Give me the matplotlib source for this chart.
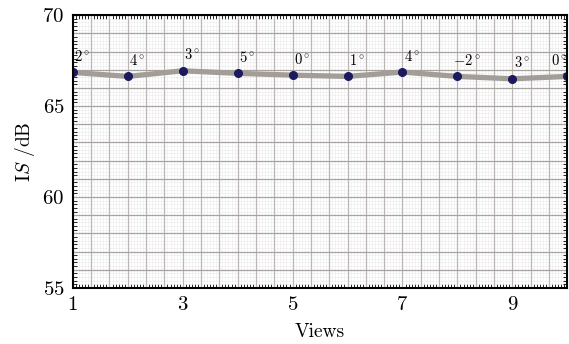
import numpy as np
import matplotlib
matplotlib.use('Agg')
import matplotlib.pyplot as plt
from matplotlib.ticker import MultipleLocator, FixedLocator

plt.rcParams['font.family'] = 'serif'
plt.rcParams['font.serif'] = ['cmr10']
plt.rcParams['mathtext.fontset'] = 'cm'
plt.rcParams['axes.formatter.use_mathtext'] = True

# data
views = [1, 2, 3, 4, 5, 6, 7, 8, 9, 10]
IS = [66.85, 66.63, 66.94, 66.80, 66.70, 66.63, 66.87, 66.63, 66.50, 66.63]
angles = ['2', '4', '3', '5', '0', '1', '4', '-2', '3', '0']

fig = plt.figure(figsize=(5.69, 3.44), dpi=100)
ax = fig.add_axes([0.128, 0.163, 0.869, 0.793])

ax.plot(views, IS, color='#a39d98', lw=3.8, solid_joinstyle='round', solid_capstyle='round', zorder=3)
ax.plot(views, IS, 'o', color='#1c1a5e', ms=5.5, zorder=4)
for i, (v, s, a) in enumerate(zip(views, IS, angles)):
    dx = -6 if i == len(views) - 1 else 7
    ax.annotate(r'$%s^\circ$' % a, (v, s), xytext=(dx, 6), textcoords='offset points',
                fontsize=10.5, ha='center', va='bottom', zorder=5, annotation_clip=False)

ax.set_xlim(1, 10)
ax.set_ylim(55, 70)
ax.xaxis.set_major_locator(FixedLocator([1, 3, 5, 7, 9]))
ax.yaxis.set_major_locator(MultipleLocator(5))
ax.xaxis.set_minor_locator(MultipleLocator(1 / 18))
ax.yaxis.set_minor_locator(MultipleLocator(0.2))

# fine grid + medium grid
ax.grid(which='minor', color='#ebebeb', lw=0.4)
ax.set_axisbelow(True)
for xv in np.arange(1, 10.01, 1 / 3):
    ax.axvline(xv, color='#bbb5b3', lw=0.9, zorder=1)
for yv in np.arange(55, 70.01, 1):
    ax.axhline(yv, color='#a8a2a0', lw=0.9, zorder=1)

ax.tick_params(which='both', direction='in', top=True, right=True)
ax.tick_params(which='major', length=0, labelsize=15, pad=6)
ax.tick_params(which='minor', length=3, width=0.6)
for sp in ax.spines.values():
    sp.set_linewidth(1.5)
    sp.set_zorder(6)

ax.set_xlabel('Views', fontsize=14, labelpad=6)
ax.set_ylabel(r'I$S$ /dB', fontsize=14)

fig.savefig('out.png', dpi=100)
